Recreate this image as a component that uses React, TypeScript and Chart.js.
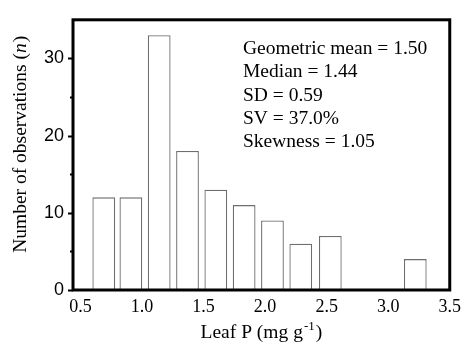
import { useEffect, useRef } from "react";
import { Chart, registerables } from "chart.js";

Chart.register(...registerables);

const binCenters = [0.69, 0.91, 1.14, 1.37, 1.6, 1.83, 2.06, 2.29, 2.53, 3.22];
const counts = [12, 12, 33, 18, 13, 11, 9, 6, 7, 4];
const xTicks = [0.5, 1.0, 1.5, 2.0, 2.5, 3.0, 3.5];
const yTicks = [0, 10, 20, 30];
const yMinorTicks = [5, 15, 25];
const statsLines = [
  "Geometric mean = 1.50",
  "Median = 1.44",
  "SD = 0.59",
  "SV = 37.0%",
  "Skewness = 1.05",
];
const yTitleMain = "Number of observations (";
const yTitleItalic = "n";
const yTitleEnd = ")";
const xTitleMain = "Leaf P (mg g";
const xTitleSup = "-1";
const xTitleEnd = ")";

const SERIF = '"Liberation Serif", "Times New Roman", serif';
const SANS = '"Liberation Sans", Arial, sans-serif';

const framePlugin = {
  id: "frame",
  afterDraw(chart: any) {
    const { ctx, chartArea: a, scales } = chart;
    const y = scales.y;
    ctx.save();
    ctx.strokeStyle = "#000";
    ctx.lineWidth = 2;
    const tick = (v: number, len: number) => {
      const py = Math.round(y.getPixelForValue(v)) + 0.5;
      ctx.beginPath();
      ctx.moveTo(a.left - len, py);
      ctx.lineTo(a.left, py);
      ctx.stroke();
    };
    yTicks.forEach((v) => tick(v, 5));
    yMinorTicks.forEach((v) => tick(v, 3));

    ctx.lineWidth = 3;
    ctx.strokeRect(a.left, a.top, a.right - a.left, a.bottom - a.top);

    // stats text
    ctx.fillStyle = "#000";
    ctx.font = `19.5px ${SERIF}`;
    ctx.textAlign = "left";
    ctx.textBaseline = "middle";
    const sx = a.left + 170;
    const sy = a.top + 29;
    statsLines.forEach((s, i) => ctx.fillText(s, sx, sy + i * 23.3));

    // x title
    ctx.textBaseline = "alphabetic";
    const fMain = `19.5px ${SERIF}`;
    const fSup = `13px ${SERIF}`;
    ctx.font = fMain;
    const w1 = ctx.measureText(xTitleMain).width;
    const w3 = ctx.measureText(xTitleEnd).width;
    ctx.font = fSup;
    const w2 = ctx.measureText(xTitleSup).width;
    const total = w1 + w2 + w3 + 2;
    let tx = (a.left + a.right) / 2 - total / 2;
    const ty = 338;
    ctx.font = fMain;
    ctx.fillText(xTitleMain, tx, ty);
    tx += w1 + 1;
    ctx.font = fSup;
    ctx.fillText(xTitleSup, tx, ty - 8);
    tx += w2 + 1;
    ctx.font = fMain;
    ctx.fillText(xTitleEnd, tx, ty);

    // y title (rotated)
    ctx.save();
    ctx.translate(26, a.top + 124.5);
    ctx.rotate(-Math.PI / 2);
    const fIt = `italic 19.5px ${SERIF}`;
    ctx.font = fMain;
    const v1 = ctx.measureText(yTitleMain).width;
    const v3 = ctx.measureText(yTitleEnd).width;
    ctx.font = fIt;
    const v2 = ctx.measureText(yTitleItalic).width;
    let px = -(v1 + v2 + v3 + 1) / 2;
    ctx.font = fMain;
    ctx.fillText(yTitleMain, px, 0);
    px += v1;
    ctx.font = fIt;
    ctx.fillText(yTitleItalic, px, 0);
    px += v2 + 1;
    ctx.font = fMain;
    ctx.fillText(yTitleEnd, px, 0);
    ctx.restore();

    ctx.restore();
  },
};

export default function App() {
  const ref = useRef<HTMLCanvasElement | null>(null);

  useEffect(() => {
    document.body.style.margin = "0";
    const canvas = ref.current;
    if (!canvas) return;
    const chart = new Chart(canvas, {
      type: "bar",
      data: {
        datasets: [
          {
            data: binCenters.map((c, i) => ({ x: c, y: counts[i] })),
            backgroundColor: "#ffffff",
            borderColor: "#6e6e6e",
            borderWidth: 1.3,
            barPercentage: 0.84,
            categoryPercentage: 1,
          } as any,
        ],
      },
      options: {
        animation: false,
        responsive: false,
        layout: { padding: { top: 9, right: 14, left: 0, bottom: 0 } },
        plugins: {
          legend: { display: false },
          tooltip: { enabled: false },
        },
        scales: {
          x: {
            type: "linear",
            min: 0.44,
            max: 3.5,
            offset: false,
            grid: { display: false, drawTicks: false, tickLength: 0 },
            border: { display: false },
            afterBuildTicks: (scale: any) => {
              scale.ticks = xTicks.map((v) => ({ value: v }));
            },
            afterFit: (scale: any) => {
              scale.height = 60;
            },
            ticks: {
              autoSkip: false,
              maxRotation: 0,
              padding: 6,
              color: "#000",
              font: { family: SERIF, size: 18 },
              callback: (v: any) => Number(v).toFixed(1),
            },
          },
          y: {
            min: 0,
            max: 35,
            grid: { display: false, drawTicks: false, tickLength: 0 },
            border: { display: false },
            afterBuildTicks: (scale: any) => {
              scale.ticks = yTicks.map((v) => ({ value: v }));
            },
            afterFit: (scale: any) => {
              scale.width = 73;
            },
            ticks: {
              padding: 9,
              color: "#000",
              font: { family: SANS, size: 18 },
            },
          },
        },
      } as any,
      plugins: [framePlugin],
    });
    return () => chart.destroy();
  }, []);

  return (
    <div style={{ position: "absolute", left: 0, top: 0, width: 467, height: 350 }}>
      <canvas ref={ref} width={467} height={350} />
    </div>
  );
}
